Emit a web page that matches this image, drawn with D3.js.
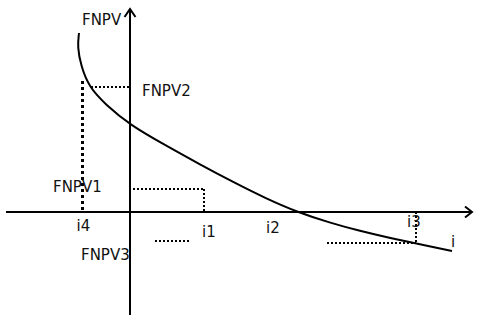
<!DOCTYPE html>
<html>
<head>
<meta charset="utf-8">
<script src="https://cdn.jsdelivr.net/npm/d3@7/dist/d3.min.js"></script>
<style>
  html, body { margin: 0; padding: 0; background: #fff; }
  svg { display: block; }
  text { font-family: "DejaVu Sans", Verdana, sans-serif; font-size: 15px; fill: #111; }
</style>
</head>
<body>
<svg id="chart" width="480" height="315"></svg>
<script>
// Discount rate i (horizontal) against FNPV (vertical)
const rateValues = [-5.1, -5.26, -4.9, -4.1, -2.5, 0, 3.5, 7.0, 10.5, 13.5, 16.7, 20.0, 23.0, 26.0, 28.6, 32.2];
const fnpvValues = [17.9, 16.5, 14.6, 12.5, 10.8, 8.7, 6.7, 4.75, 2.9, 1.4, 0, -1.08, -1.9, -2.6, -3.15, -3.9];

// Marked rates and FNPV levels
const rateMarks = { i4: -4.75, i1: 7.4, i2: 16.7, i3: 28.6 };
const fnpvMarks = { FNPV2: 12.5, FNPV1: 2.3, FNPV3: -2.9, FNPVi3: -3.1 };

const axisRange = { iMin: -12.4, iMax: 34.2, fMin: -10.3, fMax: 20.3 };

const svg = d3.select("#chart");
const x = d3.scaleLinear().domain([-12.4, 34.6]).range([6, 476]);
const y = d3.scaleLinear().domain([-10.3, 20.4]).range([315, 8]);

const ink = "#000";

// Axes through the origin
const axes = svg.append("g").attr("stroke", ink).attr("stroke-width", 2).attr("fill", "none");
axes.append("line")
  .attr("x1", x(axisRange.iMin)).attr("y1", y(0))
  .attr("x2", x(axisRange.iMax)).attr("y2", y(0));
axes.append("line")
  .attr("x1", x(0)).attr("y1", y(axisRange.fMin))
  .attr("x2", x(0)).attr("y2", y(axisRange.fMax));

// Open arrowheads
const xt = [x(axisRange.iMax), y(0)];
axes.append("path").attr("d", `M${xt[0] - 7},${xt[1] - 5.5}L${xt[0]},${xt[1]}L${xt[0] - 7},${xt[1] + 5.5}`);
const yt = [x(0), y(axisRange.fMax)];
axes.append("path").attr("d", `M${yt[0] - 5.5},${yt[1] + 8}L${yt[0]},${yt[1]}L${yt[0] + 5.5},${yt[1] + 8}`);

// Dotted guide lines
const guides = [
  { a: [rateMarks.i4, 13.1], b: [rateMarks.i4, 0], w: 3 },
  { a: [-3.9, fnpvMarks.FNPV2], b: [0, fnpvMarks.FNPV2], w: 2 },
  { a: [0.3, fnpvMarks.FNPV1], b: [rateMarks.i1, fnpvMarks.FNPV1], w: 2 },
  { a: [rateMarks.i1, fnpvMarks.FNPV1], b: [rateMarks.i1, 0], w: 2 },
  { a: [2.5, fnpvMarks.FNPV3], b: [5.9, fnpvMarks.FNPV3], w: 2 },
  { a: [19.7, fnpvMarks.FNPVi3], b: [rateMarks.i3, fnpvMarks.FNPVi3], w: 2 },
  { a: [rateMarks.i3, 0], b: [rateMarks.i3, fnpvMarks.FNPVi3], w: 2 }
];
svg.append("g").selectAll("line").data(guides).join("line")
  .attr("x1", d => x(d.a[0])).attr("y1", d => y(d.a[1]))
  .attr("x2", d => x(d.b[0])).attr("y2", d => y(d.b[1]))
  .attr("stroke", ink)
  .attr("stroke-width", d => d.w)
  .attr("stroke-dasharray", d => d.w === 3 ? "3,3" : "2,2");

// FNPV curve
const pts = rateValues.map((r, k) => [r, fnpvValues[k]]);
svg.append("path")
  .datum(pts)
  .attr("fill", "none")
  .attr("stroke", ink)
  .attr("stroke-width", 2)
  .attr("d", d3.line().x(d => x(d[0])).y(d => y(d[1])).curve(d3.curveBasis));

// Labels
const labels = [
  { t: "FNPV", px: x(0) - 48, py: y(axisRange.fMax) + 16 },
  { t: "FNPV2", px: x(0) + 12, py: y(fnpvMarks.FNPV2) + 9 },
  { t: "FNPV1", px: x(0) - 77, py: y(fnpvMarks.FNPV1) + 3 },
  { t: "FNPV3", px: x(0) - 49, py: y(fnpvMarks.FNPV3) + 19 },
  { t: "i4", px: x(rateMarks.i4) - 6, py: y(0) + 19 },
  { t: "i1", px: x(rateMarks.i1) - 2, py: y(0) + 25 },
  { t: "i2", px: x(rateMarks.i2) - 31, py: y(0) + 21 },
  { t: "i3", px: x(rateMarks.i3) - 9, py: y(0) + 15 },
  { t: "i", px: x(axisRange.iMax) - 21, py: y(0) + 35 }
];
svg.append("g").selectAll("text").data(labels).join("text")
  .attr("x", d => d.px).attr("y", d => d.py)
  .text(d => d.t);
</script>
</body>
</html>
